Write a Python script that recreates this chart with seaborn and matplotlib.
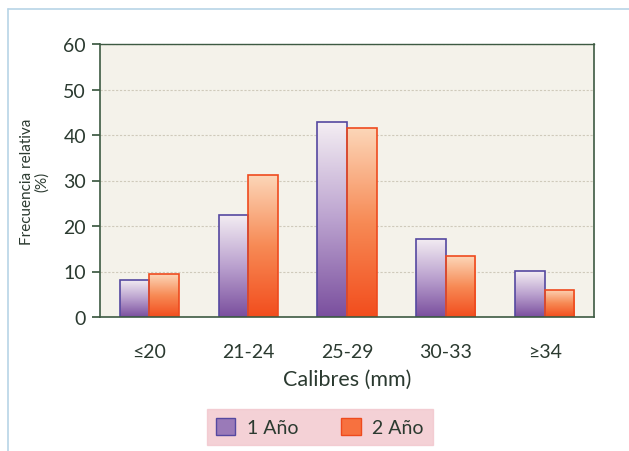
import numpy as np
import pandas as pd
import matplotlib
matplotlib.use("Agg")
import matplotlib.pyplot as plt
import seaborn as sns
from matplotlib.colors import LinearSegmentedColormap
from matplotlib.patches import Patch
from matplotlib.lines import Line2D

categories = ["≤20", "21-24", "25-29", "30-33", "≥34"]
series_names = ["1 Año", "2 Año"]
values_1 = [8.2, 22.5, 42.8, 17.2, 10.1]
values_2 = [9.4, 31.1, 41.5, 13.4, 6.0]
yticks = [0, 10, 20, 30, 40, 50, 60]

df = pd.DataFrame({
    "Calibre": categories * 2,
    "Serie": [series_names[0]] * len(categories) + [series_names[1]] * len(categories),
    "Valor": values_1 + values_2,
})

sns.set_theme(style="white")
plt.rcParams["font.family"] = ["Lato", "DejaVu Sans"]

text_col = "#2b3a30"
axis_col = "#3d5a42"
fills = {"1 Año": "#9a7ab8", "2 Año": "#f7713f"}
edges = {"1 Año": "#5548a0", "2 Año": "#ee4a1e"}

fig = plt.figure(figsize=(6.29, 4.52), dpi=100)
fig.patch.set_facecolor("white")
ax = fig.add_axes([100/629, 1-318/452, 494/629, 273/452])
ax.set_facecolor("#f4f2ea")

sns.barplot(data=df, x="Calibre", y="Valor", hue="Serie", palette=fills,
            width=0.6, ax=ax, legend=False, saturation=1, linewidth=1.2)

# gradient fill for bars
cmaps = {
    "1 Año": LinearSegmentedColormap.from_list("p", ["#7a4f9e", "#bba2cf", "#f4eef3"]),
    "2 Año": LinearSegmentedColormap.from_list("o", ["#f24d1d", "#f78a55", "#fcd6b8"]),
}
grad = np.linspace(0, 1, 256).reshape(-1, 1)
for container, name in zip(ax.containers, series_names):
    for bar in container:
        bar.set_edgecolor(edges[name])
        x0, y0 = bar.get_x(), bar.get_y()
        w, h = bar.get_width(), bar.get_height()
        im = ax.imshow(grad, cmap=cmaps[name], aspect="auto", origin="lower",
                       extent=[x0, x0 + w, y0, y0 + h], zorder=bar.get_zorder() - 0.1)
        im.set_clip_path(bar)
        bar.set_facecolor("none")

ax.set_xlim(-0.5, 4.5)
ax.set_ylim(0, 60)
ax.set_yticks(yticks)
ax.set_yticklabels([str(v) for v in yticks], fontsize=14, color=text_col)
ax.yaxis.grid(True, color="#cfcabb", linestyle=(0, (2, 1.5)), linewidth=0.8)
ax.set_axisbelow(True)

ax.set_xticks(range(len(categories)))
ax.set_xticklabels(categories, fontsize=14, color=text_col)
ax.tick_params(axis="x", which="major", length=0, pad=19)
ax.set_xticks([0.5, 1.5, 2.5, 3.5], minor=True)
ax.tick_params(axis="x", which="minor", length=5, color=axis_col, direction="out")
ax.tick_params(axis="y", length=6, color=axis_col, direction="out", pad=4, left=True)

for s in ax.spines.values():
    s.set_color(axis_col)
    s.set_linewidth(1.2)
ax.spines["top"].set_linewidth(1.0)

ax.set_xlabel("Calibres (mm)", fontsize=15.5, color=text_col, labelpad=6)
ax.set_ylabel("Frecuencia relativa\n(%)", fontsize=11, color=text_col, labelpad=10,
              linespacing=1.1)

handles = [Patch(facecolor=fills[n], edgecolor=edges[n], label=n) for n in series_names]
leg = fig.legend(handles=handles, loc="center", bbox_to_anchor=(320/629, 1-428/452),
                 ncol=2, frameon=True, fontsize=14, handlelength=1.0, handleheight=1.0,
                 columnspacing=2.2, handletextpad=0.6, borderpad=0.45, fancybox=False)
leg.get_frame().set_facecolor("#f2c6cc")
leg.get_frame().set_edgecolor("#f2c6cc")
for t in leg.get_texts():
    t.set_color(text_col)

# thin light-blue frame lines (left and top)
fig.add_artist(Line2D([8/629, 8/629], [0, 1-10/452], transform=fig.transFigure,
                      color="#b8d4e6", linewidth=1.2))
fig.add_artist(Line2D([8/629, 1], [1-10/452, 1-10/452], transform=fig.transFigure,
                      color="#b8d4e6", linewidth=1.2))

fig.savefig("out.png", dpi=100, facecolor="white")
